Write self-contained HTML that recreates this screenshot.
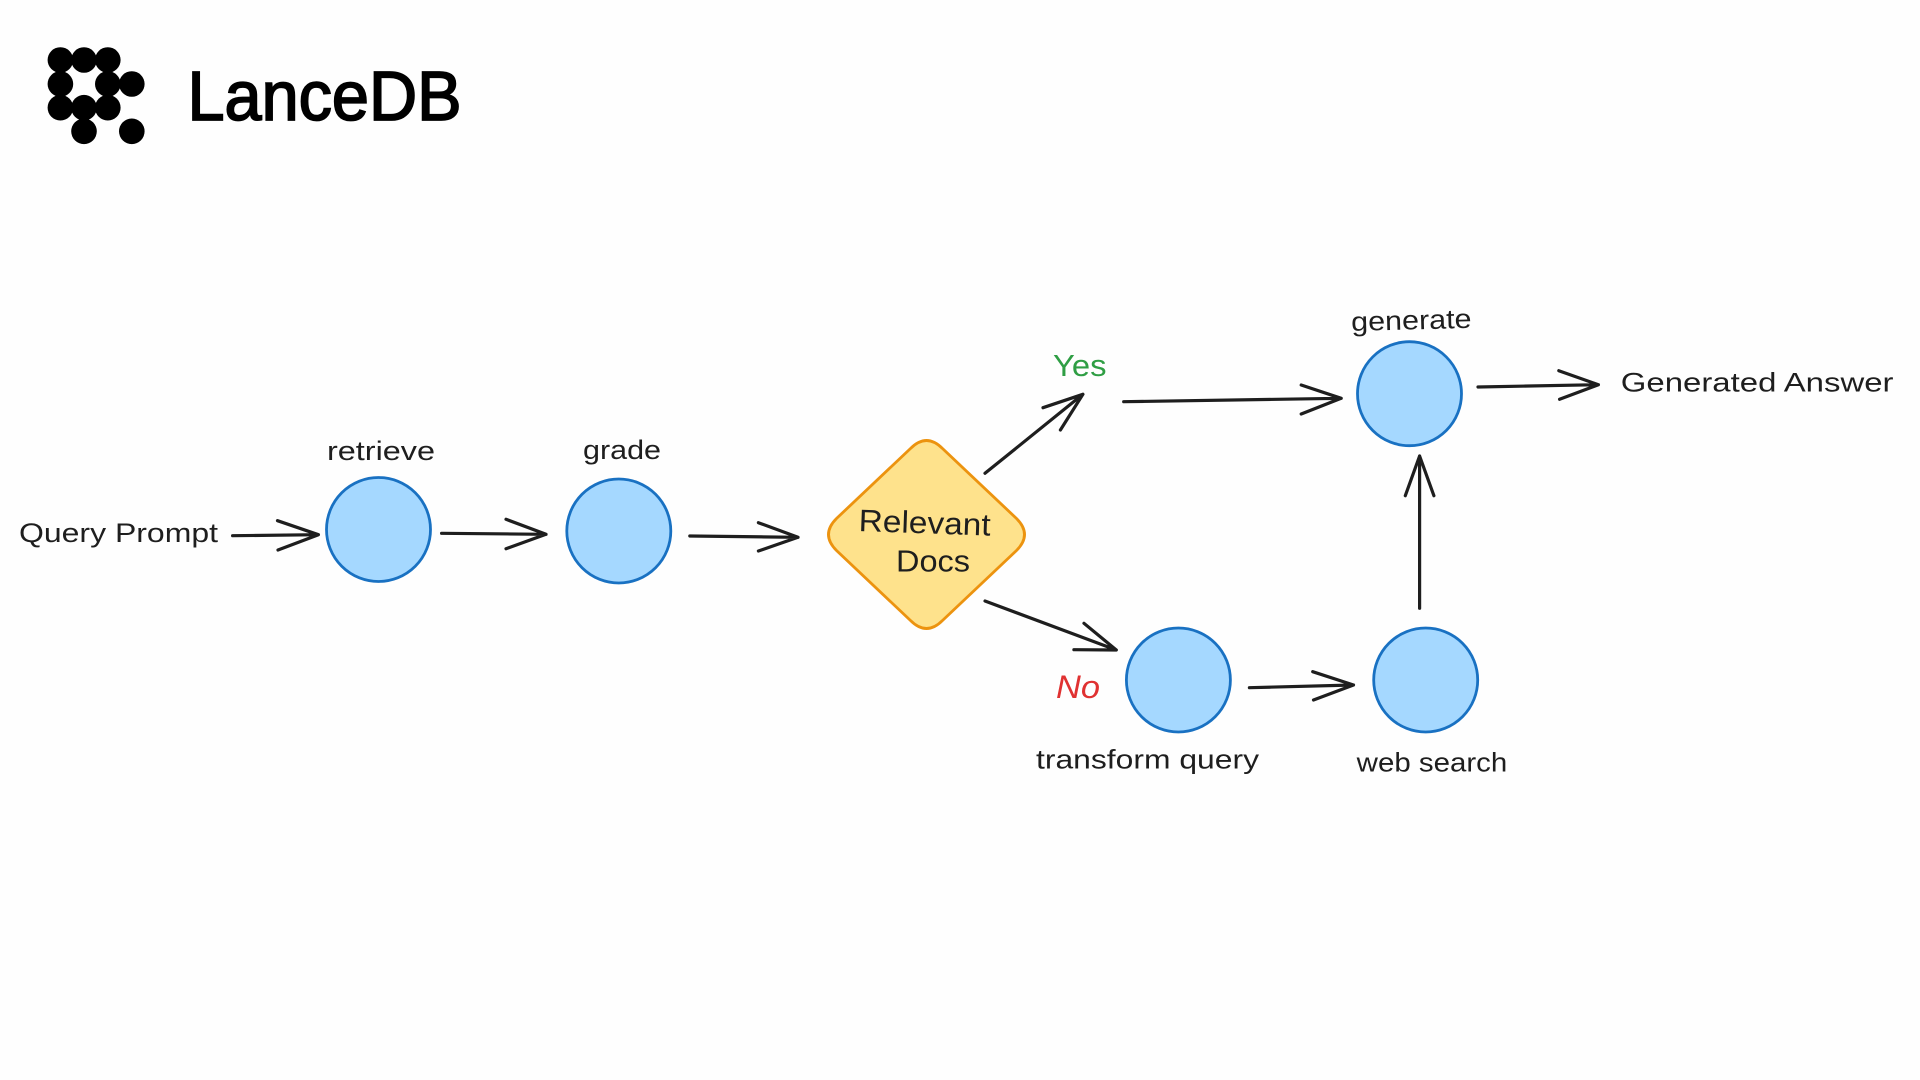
<!DOCTYPE html>
<html><head><meta charset="utf-8"><title>LanceDB</title>
<style>html,body{margin:0;padding:0;background:#fefefe}svg{display:block;filter:blur(.35px)}
.t{font-family:"Liberation Sans",sans-serif;fill:#1e1e1e;font-size:27px}
.a{fill:none;stroke:#1e1e1e;stroke-width:3.2;stroke-linecap:round;stroke-linejoin:round}
.c{fill:#a5d8ff;stroke:#1971c2;stroke-width:2.8}</style></head>
<body>
<svg width="1920" height="1080" viewBox="0 0 1920 1080" xmlns="http://www.w3.org/2000/svg">
<rect width="1920" height="1080" fill="#fefefe"/>
<g fill="#000">
<circle cx="60.4" cy="60" r="12.8"/><circle cx="84" cy="60" r="12.8"/><circle cx="107.8" cy="60" r="12.8"/>
<circle cx="60.4" cy="84" r="12.8"/><circle cx="107.8" cy="84" r="12.8"/><circle cx="131.8" cy="84" r="12.8"/>
<circle cx="60.4" cy="107.7" r="12.8"/><circle cx="84" cy="107.7" r="12.8"/><circle cx="107.8" cy="107.7" r="12.8"/>
<circle cx="84" cy="131.3" r="12.8"/><circle cx="131.8" cy="131.3" r="12.8"/>
</g>
<text x="187.5" y="120" font-family="'Liberation Sans',sans-serif" font-size="70" textLength="274" lengthAdjust="spacingAndGlyphs" fill="#000" stroke="#000" stroke-width="1.8">LanceDB</text>

<circle class="c" cx="378.5" cy="529.5" r="52"/>
<circle class="c" cx="618.8" cy="531" r="52"/>
<circle class="c" cx="1178.4" cy="680" r="52"/>
<circle class="c" cx="1425.7" cy="680" r="52"/>
<circle class="c" cx="1409.5" cy="393.7" r="52"/>
<path d="M910.5 448.5Q926.5 432.5 942.5 448.5L1016.5 518.5Q1032.5 534.5 1016.5 550.5L942.5 620.5Q926.5 636.5 910.5 620.5L836.5 550.5Q820.5 534.5 836.5 518.5Z" fill="#fee28c" stroke="#ec930f" stroke-width="2.8" stroke-linejoin="round"/>

<g class="a">
<path d="M232.6 535.7L318 534.7M277.5 520.7L318.4 534.7L278 550"/>
<path d="M441.6 533.3L546 534.3M506 519.3L546 534.3L506 548.7"/>
<path d="M689.8 536L798 537.3M758.4 522.7L798 537.3L758.4 551"/>
<path d="M985 473.3L1082.9 394.3M1043 407.7L1082.9 394.3L1060.4 430"/>
<path d="M985 601L1116.3 650M1084 623.3L1116.3 650L1073.9 649.7"/>
<path d="M1123.7 401.7L1341.2 398.3M1301.2 385L1341.2 398.3L1301.2 414"/>
<path d="M1249.4 687.7L1353.5 685M1312.7 671.7L1353.5 685L1313.5 700"/>
<path d="M1419.6 608.3L1419.6 456M1405.3 495.7L1419.6 456L1433.9 495.7"/>
<path d="M1478 387L1598.4 384.7M1558.8 370.7L1598.4 384.7L1559.6 399.3"/>
</g>

<text class="t" x="19" y="542" textLength="199" lengthAdjust="spacingAndGlyphs">Query Prompt</text>
<text class="t" x="327" y="460" textLength="108" lengthAdjust="spacingAndGlyphs">retrieve</text>
<text class="t" x="583" y="459" textLength="78" lengthAdjust="spacingAndGlyphs">grade</text>
<text class="t" x="858.4" y="531" style="font-size:31px" textLength="132" lengthAdjust="spacingAndGlyphs" transform="rotate(2 858 531)">Relevant</text>
<text class="t" x="896" y="571.7" style="font-size:31px" textLength="74" lengthAdjust="spacingAndGlyphs">Docs</text>
<text class="t" x="1053" y="376" style="font-size:31px;fill:#2f9e44" textLength="53.5" lengthAdjust="spacingAndGlyphs">Yes</text>
<text class="t" x="1056" y="698" style="font-size:32px;fill:#e03131;font-style:italic" textLength="44" lengthAdjust="spacingAndGlyphs">No</text>
<text class="t" x="1036" y="768.3" textLength="223" lengthAdjust="spacingAndGlyphs">transform query</text>
<text class="t" x="1356.7" y="771.5" textLength="150.6" lengthAdjust="spacingAndGlyphs">web search</text>
<text class="t" x="1351.4" y="331" textLength="120.4" lengthAdjust="spacingAndGlyphs" transform="rotate(-1.5 1351 331)">generate</text>
<text class="t" x="1620.8" y="391.7" textLength="272.7" lengthAdjust="spacingAndGlyphs">Generated Answer</text>
</svg>
</body></html>
